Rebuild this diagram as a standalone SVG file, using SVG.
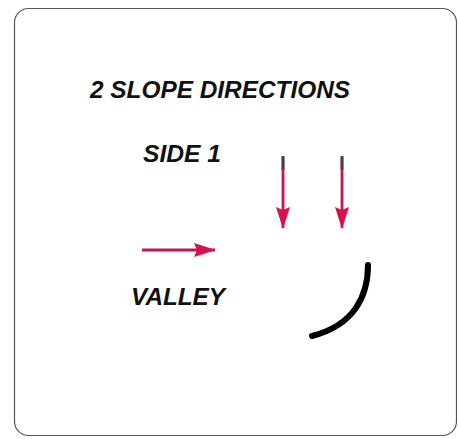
<svg xmlns="http://www.w3.org/2000/svg" width="458" height="439" viewBox="0 0 458 439">
<defs>
<style>
.lbl{font-family:"Liberation Sans",Arial,sans-serif;font-weight:bold;font-style:italic;fill:#111;font-size:24px;}
.arr{stroke:#d0124e;stroke-width:2.8;fill:none;}
</style>
<marker id="ah" viewBox="0 0 22 14" markerWidth="22" markerHeight="14" refX="21" refY="7" orient="auto" markerUnits="userSpaceOnUse">
<path d="M0,0 L22,7 L0,14 L3,7 Z" fill="#d8124f"/>
</marker>
</defs>
<rect x="0" y="0" width="458" height="439" fill="#fff"/>
<g id="frame"><rect x="14.5" y="8.5" width="442" height="427" rx="14" fill="#fff" stroke="#555" stroke-width="1.2"/></g>
<g id="title"><text class="lbl" x="90" y="98" textLength="260" lengthAdjust="spacingAndGlyphs">2 SLOPE DIRECTIONS</text></g>
<g id="side1"><text class="lbl" x="143" y="162" textLength="78" lengthAdjust="spacingAndGlyphs">SIDE 1</text></g>
<g id="valley"><text class="lbl" x="131" y="305" textLength="94" lengthAdjust="spacingAndGlyphs">VALLEY</text></g>
<g id="connectors">
<line class="arr" x1="142" y1="250" x2="215" y2="250" marker-end="url(#ah)"/>
<line class="arr" x1="283" y1="157" x2="283" y2="228" marker-end="url(#ah)"/>
<line class="arr" x1="342" y1="157" x2="342" y2="228" marker-end="url(#ah)"/>
<line x1="283" y1="156" x2="283" y2="170" stroke="#444" stroke-width="2.8"/>
<line x1="342" y1="156" x2="342" y2="170" stroke="#444" stroke-width="2.8"/>
<path d="M368,265 C368,295 355,325 312,336" fill="none" stroke="#000" stroke-width="6" stroke-linecap="round"/>
</g>
</svg>
